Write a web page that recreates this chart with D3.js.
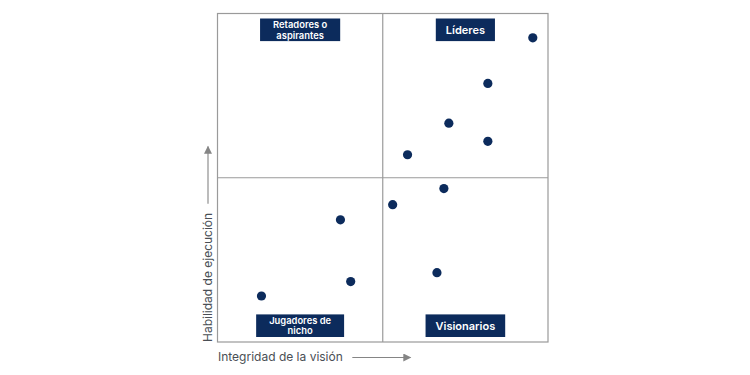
<!DOCTYPE html>
<html>
<head>
<meta charset="utf-8">
<script src="https://cdn.jsdelivr.net/npm/d3@7"></script>
<style>
  body { margin: 0; background: #fff; }
  svg { display: block; font-family: Inter, "Open Sans", sans-serif; }
</style>
</head>
<body>
<div id="chart"></div>
<script>
// vendor positions (0-10 scale on both axes)
const vendorVision = [9.54, 8.18, 7.00, 8.18, 5.75, 6.85, 5.30, 3.72, 6.64, 4.03, 1.33];
const vendorExecution = [9.26, 7.87, 6.66, 6.11, 5.70, 4.67, 4.18, 3.72, 2.11, 1.84, 1.40];

// quadrant labels: [column, row] and text lines
const quadrantNames = [
    ['Retadores o', 'aspirantes'],
    ['Líderes'],
    ['Jugadores de', 'nicho'],
    ['Visionarios']
];
const quadrantCols = [0, 1, 0, 1];
const quadrantRows = [0, 0, 1, 1];

const xTitle = 'Integridad de la visión';
const yTitle = 'Habilidad de ejecución';

const W = 750, H = 375;
const margin = { top: 13.5, right: 202, bottom: 33, left: 217.5 };
const width = W - margin.left - margin.right;
const height = H - margin.top - margin.bottom;

const navy = '#0c2b5c';
const gridColor = '#9a9a9a';
const axisColor = '#858585';

const svg = d3.select('#chart').append('svg')
    .attr('width', W)
    .attr('height', H);

const defs = svg.append('defs');
defs.append('marker')
    .attr('id', 'arrow')
    .attr('viewBox', '0 0 10 10')
    .attr('refX', 9)
    .attr('refY', 5)
    .attr('markerWidth', 10)
    .attr('markerHeight', 8)
    .attr('markerUnits', 'userSpaceOnUse')
    .attr('orient', 'auto')
    .append('path')
    .attr('d', 'M0,0 L10,5 L0,10 Z')
    .attr('fill', axisColor);

const g = svg.append('g')
    .attr('transform', `translate(${margin.left},${margin.top})`);

const x = d3.scaleLinear().domain([0, 10]).range([0, width]);
const y = d3.scaleLinear().domain([0, 10]).range([height, 0]);

// frame and quadrant dividers
g.append('rect')
    .attr('x', x(0))
    .attr('y', y(10))
    .attr('width', x(10) - x(0))
    .attr('height', y(0) - y(10))
    .attr('fill', 'none')
    .attr('stroke', gridColor)
    .attr('stroke-width', 1.2);

g.append('line')
    .attr('x1', x(5)).attr('x2', x(5))
    .attr('y1', y(0)).attr('y2', y(10))
    .attr('stroke', gridColor)
    .attr('stroke-width', 1.2);

g.append('line')
    .attr('x1', x(0)).attr('x2', x(10))
    .attr('y1', y(5)).attr('y2', y(5))
    .attr('stroke', gridColor)
    .attr('stroke-width', 1.2);

// quadrant label boxes
const boxH = 22.6;
quadrantNames.forEach((lines, i) => {
    const cx = (x(quadrantCols[i] * 5) + x(quadrantCols[i] * 5 + 5)) / 2;
    const top = quadrantRows[i] === 0 ? y(10) + 5 : y(0) - 5 - boxH;
    const lab = g.append('g');
    const rect = lab.append('rect').attr('fill', navy);
    const fs = lines.length > 1 ? 9.4 : 11;
    const pad = lines.length > 1 ? 13 : 10;
    const lh = 10.8;
    let tw = 0;
    lines.forEach((t, j) => {
        const tx = lab.append('text')
            .attr('fill', '#fff')
            .attr('font-size', fs)
            .attr('font-weight', 600)
            .attr('text-anchor', 'middle')
            .attr('x', cx)
            .attr('y', top + boxH / 2 + (j - (lines.length - 1) / 2) * lh + fs * 0.36)
            .text(t);
        tw = Math.max(tw, tx.node().getComputedTextLength());
    });
    rect.attr('x', cx - tw / 2 - pad)
        .attr('y', top)
        .attr('width', tw + pad * 2)
        .attr('height', boxH);
});

// vendor dots
g.selectAll('.dot')
    .data(vendorVision.map((v, i) => ({ v, e: vendorExecution[i] })))
    .enter()
    .append('circle')
    .attr('class', 'dot')
    .attr('cx', d => x(d.v))
    .attr('cy', d => y(d.e))
    .attr('r', 4.6)
    .attr('fill', navy);

// axis titles with arrows
const xt = g.append('text')
    .attr('x', 0.5)
    .attr('y', height + 19)
    .attr('font-size', 12)
    .attr('fill', '#4a4f55')
    .text(xTitle);
const xw = xt.node().getComputedTextLength();
g.append('line')
    .attr('x1', xw + 10)
    .attr('x2', 193)
    .attr('y1', height + 15.5)
    .attr('y2', height + 15.5)
    .attr('stroke', axisColor)
    .attr('stroke-width', 1.1)
    .attr('marker-end', 'url(#arrow)');

const yt = g.append('text')
    .attr('transform', `translate(-5.5,${height}) rotate(-90)`)
    .attr('x', 0)
    .attr('y', 0)
    .attr('font-size', 12)
    .attr('fill', '#4a4f55')
    .text(yTitle);
const yw = yt.node().getComputedTextLength();
g.append('line')
    .attr('x1', -9.5)
    .attr('x2', -9.5)
    .attr('y1', height - yw - 9)
    .attr('y2', 133)
    .attr('stroke', axisColor)
    .attr('stroke-width', 1.1)
    .attr('marker-end', 'url(#arrow)');
</script>
</body>
</html>
